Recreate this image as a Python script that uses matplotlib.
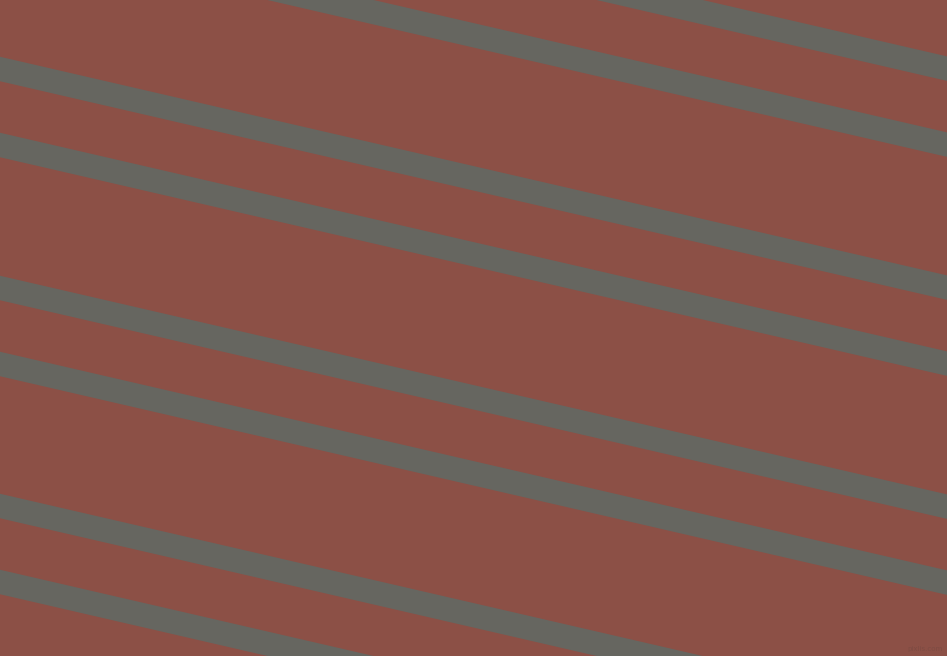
import numpy as np
import matplotlib
matplotlib.use("Agg")
import matplotlib.pyplot as plt


WIDTH = 947
HEIGHT = 656

BG_COLOR = "#8c5046"
STRIPE_COLOR = "#666660"

# y where each stripe centre crosses the left edge (pixels, top = 0)
stripe_offsets = [-150, -74, 69, 145, 288, 364, 506, 582]
stripe_angle_deg = 13.0
stripe_thickness_px = 24.5  # vertical thickness


def main():
    fig = plt.figure(figsize=(WIDTH / 100, HEIGHT / 100), dpi=100)
    ax = fig.add_axes([0, 0, 1, 1])
    ax.set_xlim(0, WIDTH)
    ax.set_ylim(HEIGHT, 0)
    ax.axis("off")
    fig.patch.set_facecolor(BG_COLOR)
    ax.set_facecolor(BG_COLOR)

    slope = np.tan(np.radians(stripe_angle_deg))
    xs = np.array([-50, WIDTH + 50])
    half = stripe_thickness_px / 2

    for y0 in stripe_offsets:
        yc = y0 + slope * xs
        ax.fill_between(xs, yc - half, yc + half, color=STRIPE_COLOR, linewidth=0)

    ax.text(WIDTH - 4, HEIGHT - 4, "pixlis.com", ha="right", va="bottom",
            fontsize=5, color="#7a4a42", alpha=0.8)

    fig.savefig("out.png", dpi=100, facecolor=BG_COLOR)
    plt.close(fig)


if __name__ == "__main__":
    main()
